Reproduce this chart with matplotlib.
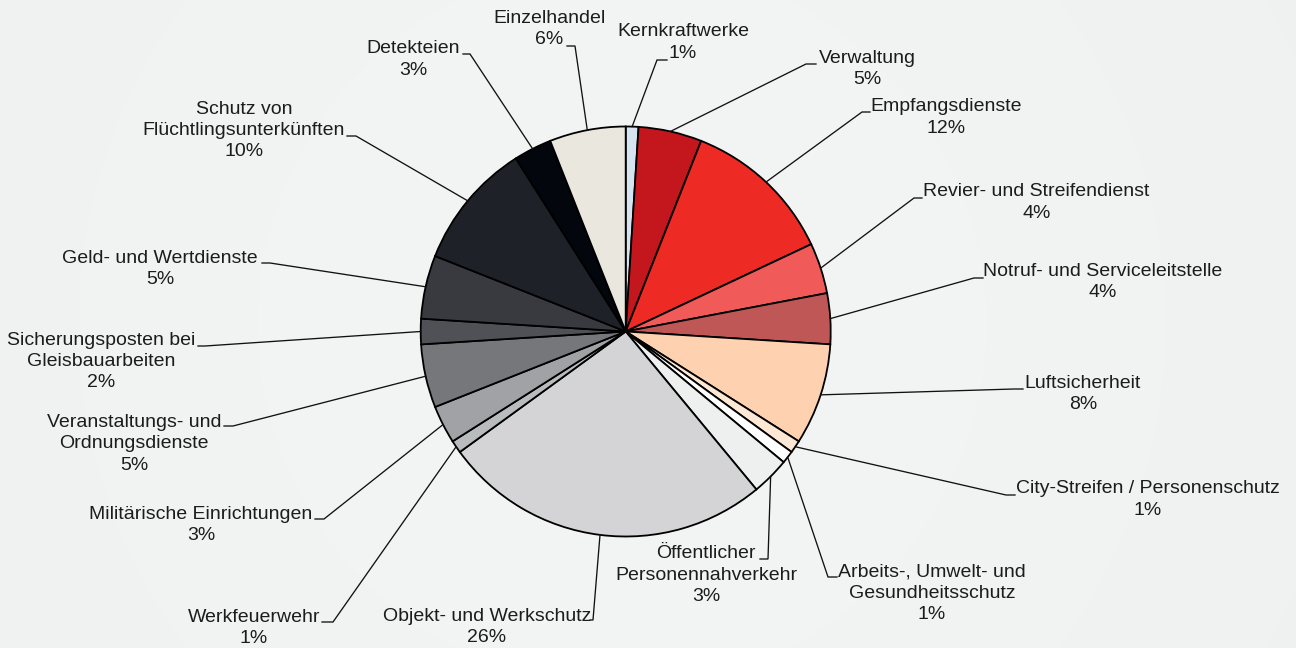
import numpy as np
import matplotlib
matplotlib.use("Agg")
import matplotlib.pyplot as plt

# ---- data ----
categories = [
    "Kernkraftwerke", "Verwaltung", "Empfangsdienste", "Revier- und Streifendienst",
    "Notruf- und Serviceleitstelle", "Luftsicherheit", "City-Streifen / Personenschutz",
    "Arbeits-, Umwelt- und\nGesundheitsschutz", "Öffentlicher\nPersonennahverkehr",
    "Objekt- und Werkschutz", "Werkfeuerwehr", "Militärische Einrichtungen",
    "Veranstaltungs- und\nOrdnungsdienste", "Sicherungsposten bei\nGleisbauarbeiten",
    "Geld- und Wertdienste", "Schutz von\nFlüchtlingsunterkünften", "Detekteien", "Einzelhandel",
]
values = [1, 5, 12, 4, 4, 8, 1, 1, 3, 26, 1, 3, 5, 2, 5, 10, 3, 6]
colors = [
    "#d6e4f1", "#c3161d", "#ed2b24", "#f05a58", "#bf5757", "#fed2b1", "#fde7d5",
    "#ffffff", "#eeefef", "#d4d4d6", "#b9bcbf", "#a0a2a5", "#76777b", "#505156",
    "#393a3f", "#1f2128", "#03060c", "#e9e7de",
]

# ---- layout (pixel coords, y downward) ----
W, H = 1296, 648
CX, CY, R = 625.7, 331.5, 205
# label block centre (x, y)
label_pos = [
    (683, 42.5), (867, 69), (946, 117.5), (1036.5, 202.5), (1102.5, 282),
    (1083, 394), (1148, 499.5), (932, 593), (706, 575), (487, 627),
    (254, 628), (201, 525), (134, 444), (101, 361.5), (160, 269),
    (244, 130.5), (413, 59.5), (549.5, 29),
]
# elbow point and end of short horizontal segment
elbows = [
    (657, 60, 667), (806, 64, 816), (862, 112, 870), (914, 198, 922), (974, 278, 983),
    (1014, 389, 1023), (1006, 495, 1015), (828, 577, 837), (768, 559, 760), (593, 620, 590),
    (333, 622, 322), (324, 519, 315), (233, 426, 224), (205, 346, 198), (270, 263, 262),
    (356, 136, 347), (470, 54, 463), (575, 46, 567),
]

def Y(py):
    return H - py

fig = plt.figure(figsize=(12.96, 6.48), dpi=100)
fig.patch.set_facecolor("#f3f4f4")

# subtle background gradient
bg = fig.add_axes([0, 0, 1, 1], zorder=0)
yy, xx = np.mgrid[0:1:200j, 0:1:400j]
d = np.sqrt(((xx - 0.48) * 2.0) ** 2 + ((yy - 0.5) * 1.0) ** 2)
base = np.array([0.957, 0.961, 0.961])
edge = np.array([0.940, 0.946, 0.946])
t = np.clip(d / 1.2, 0, 1)[..., None]
img = base * (1 - t) + edge * t
bg.imshow(img, aspect="auto", extent=[0, 1, 0, 1], interpolation="bicubic")
bg.axis("off")

ax = fig.add_axes([0, 0, 1, 1], zorder=1)
ax.patch.set_alpha(0)
wedges, _ = ax.pie(
    values, colors=colors, startangle=90, counterclock=False,
    radius=R, center=(CX, Y(CY)),
    wedgeprops=dict(edgecolor="black", linewidth=1.3),
)
ax.set_xlim(0, W)
ax.set_ylim(0, H)
ax.axis("off")

plt.rcParams["font.family"] = ["Liberation Sans", "DejaVu Sans"]

for w, cat, val, (tx, ty), (ex, ey, hx) in zip(wedges, categories, values, label_pos, elbows):
    mid = np.deg2rad((w.theta1 + w.theta2) / 2)
    sx = w.center[0] + w.r * np.cos(mid)
    sy = w.center[1] + w.r * np.sin(mid)
    ax.plot([sx, ex, hx], [sy, Y(ey), Y(ey)], color="#111111", lw=0.95,
            solid_joinstyle="miter", zorder=3)
    ax.text(tx, Y(ty), f"{cat}\n{val}%", ha="center", va="center",
            fontsize=14, color="#1c1c1c", linespacing=1.31,
            family=["Liberation Sans", "DejaVu Sans"], zorder=4)

fig.savefig("out.png", dpi=100, facecolor=fig.get_facecolor())
